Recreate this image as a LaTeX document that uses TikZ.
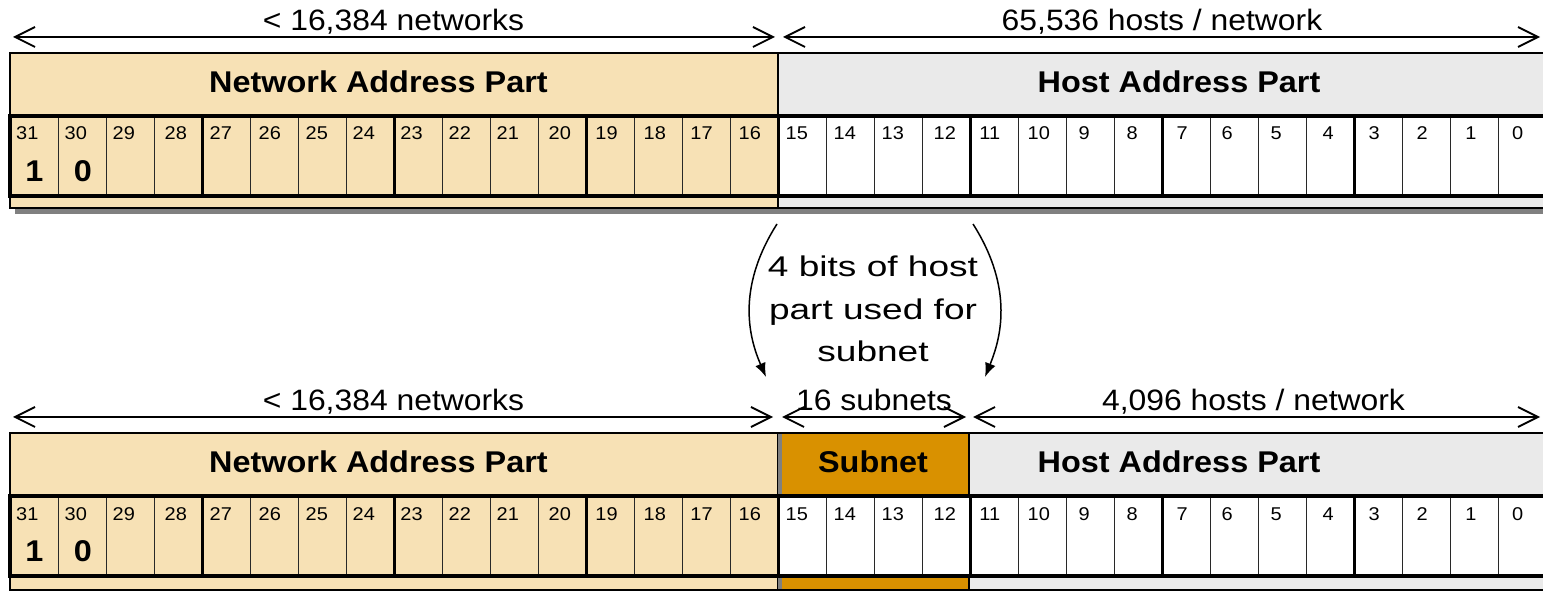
\documentclass[tikz,border=0pt]{standalone}
\usepackage{fontspec}
\setmainfont[FakeStretch=1.08]{Liberation Sans}
\newfontfamily\widesans[FakeStretch=1.3]{Liberation Sans}
\usetikzlibrary{arrows.meta}
\definecolor{nettan}{RGB}{247,225,181}
\definecolor{hostgray}{RGB}{234,234,234}
\definecolor{subnetorange}{RGB}{217,145,0}
\definecolor{shadowgray}{RGB}{128,128,128}
\definecolor{celldiv}{RGB}{40,40,40}
\begin{document}
\begin{tikzpicture}[x=1pt,y=-1pt,
  dimarrow/.style={line width=1.8pt,
    {Straight Barb[length=20pt,width=20pt]}-{Straight Barb[length=20pt,width=20pt]}},
  bendarrow/.style={line width=1.5pt,-{Latex[length=14pt,width=11pt]}},
  lbl/.style={font=\fontsize{29.5}{34}\selectfont,anchor=base,inner sep=0pt},
  hdr/.style={font=\bfseries\fontsize{30}{34}\selectfont,anchor=base,inner sep=0pt},
  bitnum/.style={font=\fontsize{18.5}{22}\selectfont,anchor=base west,inner sep=0pt},
  bitval/.style={font=\bfseries\fontsize{30}{34}\selectfont,anchor=base,inner sep=0pt},
  note/.style={font=\widesans\fontsize{28.5}{34}\selectfont,anchor=base,inner sep=0pt},
  thindiv/.style={line width=0.9pt,draw=celldiv},
  thickdiv/.style={line width=3pt},
]
\clip (0,0) rectangle (1543,593);
\fill[white] (0,0) rectangle (1543,593);

% drop shadow under the upper word
\fill[shadowgray] (15,208) rectangle (1560,214);

% band and cell fills of both address words
\foreach \s/\oy/\bot in {a/0/208,b/380/210}{
  \begin{scope}[shift={(0,\oy)}]
    \fill[nettan] (10,53) rectangle (778,\bot);
    \fill[hostgray] (778,53) rectangle (1546,\bot);
    \fill[white] (778,116) rectangle (1546,196);
    \draw[line width=1.5pt] (778,53) -- (778,116) (778,196) -- (778,\bot);
  \end{scope}
}

% subnet field of the lower word
\fill[subnetorange] (778,433) rectangle (970,496);
\fill[subnetorange] (778,576) rectangle (970,590);
\fill[shadowgray] (777.5,433) rectangle (782,496);
\fill[shadowgray] (777.5,576) rectangle (782,590);
\draw[line width=2.5pt] (969,433) -- (969,496) (969,576) -- (969,590);

% cell rules, borders and texts of both address words
\foreach \s/\oy/\bot in {a/0/208,b/380/210}{
  \begin{scope}[shift={(0,\oy)}]
    \foreach \xx in {58,106,154,250,298,346,442,490,538,634,682,730,
                     826,874,922,1018,1066,1114,1210,1258,1306,1402,1450,1498}
      \draw[thindiv] (\xx,116) -- (\xx,196);
    \foreach \xx in {202,394,586,778,970,1162,1354}
      \draw[thickdiv] (\xx,116) -- (\xx,196);
    \draw[line width=3.5pt] (10,116) rectangle (1546,196);
    \draw[line width=2pt] (10,53) rectangle (1546,\bot);

    \foreach \b/\xx in {31/17.5,30/66,29/114,28/166,27/211,26/260,25/307,24/354,
                        23/401.7,22/450,21/498,20/550,19/596.7,18/645,17/691.7,16/740,
                        15/787,14/835,13/883,12/935,11/980.7,10/1029,9/1080,8/1128,
                        7/1178,6/1223,5/1272,4/1324,3/1370,2/1418,1/1466.7,0/1513.3}
      \node[bitnum] (bit\b\s) at (\xx-1.5,140) {\b};
    \node[bitval] (val31\s) at (34.5,181.7) {1};
    \node[bitval] (val30\s) at (83,181.7) {0};
    \node[hdr] (netpart\s) at (378.5,93) {Network Address Part};
    \node[hdr] (hostpart\s) at (1179,93) {Host Address Part};
    \node[lbl] (netcount\s) at (393.5,31) {< 16,384 networks};
  \end{scope}
}
\node[hdr] (subnetpart) at (873,473) {Subnet};

% size labels
\node[lbl] (hostcounta) at (1162,31) {65,536 hosts / network};
\node[lbl] (subnetcount) at (874,411) {16 subnets};
\node[lbl] (hostcountb) at (1253.5,411) {4,096 hosts / network};

% dimension arrows
\coordinate (netLa) at (13,37);   \coordinate (netRa) at (775,37);
\coordinate (hostLa) at (783,37); \coordinate (hostRa) at (1540,37);
\coordinate (netLb) at (13,417);  \coordinate (netRb) at (773,417);
\coordinate (subL) at (782,417);  \coordinate (subR) at (966,417);
\coordinate (hostLb) at (973,417);\coordinate (hostRb) at (1540,417);
\draw[dimarrow] (netLa) -- (netRa);
\draw[dimarrow] (hostLa) -- (hostRa);
\draw[dimarrow] (netLb) -- (netRb);
\draw[dimarrow] (subL) -- (subR);
\draw[dimarrow] (hostLb) -- (hostRb);

% borrowed host bits
\node[note] (notea) at (873,276.7) {4 bits of host};
\node[note] (noteb) at (873,319.3) {part used for};
\node[note] (notec) at (873,361.7) {subnet};
\coordinate (bendLs) at (777,224); \coordinate (bendLe) at (766,377);
\coordinate (bendRs) at (973,224); \coordinate (bendRe) at (985,377);
\draw[bendarrow] (bendLs) .. controls (735,290) and (750,340) .. (bendLe);
\draw[bendarrow] (bendRs) .. controls (1015,290) and (1000,340) .. (bendRe);
\end{tikzpicture}
\end{document}
